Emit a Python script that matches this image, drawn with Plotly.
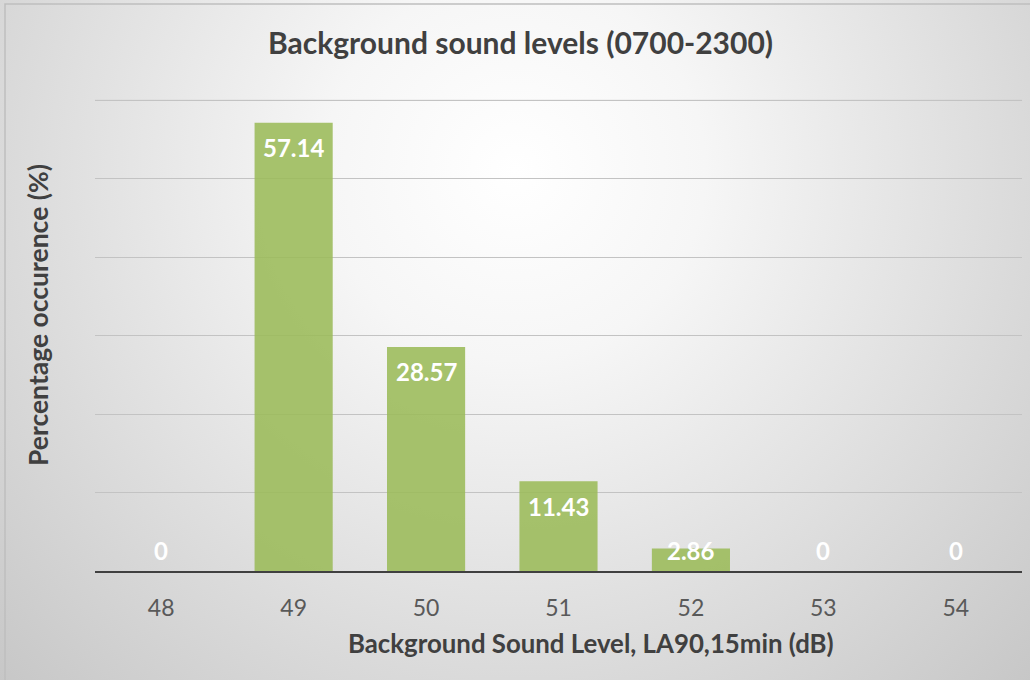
import base64
import plotly.graph_objects as go

# Histogram of background sound levels
levels = [48, 49, 50, 51, 52, 53, 54]
percent = [0, 57.14, 28.57, 11.43, 2.86, 0, 0]
value_labels = ["0", "57.14", "28.57", "11.43", "2.86", "0", "0"]

title_text = "Background sound levels (0700-2300)"
x_title = "Background Sound Level, LA90,15min (dB)"
y_title = "Percentage occurence (%)"

W, H = 1030, 680
M_L, M_R, M_T, M_B = 95, 8, 98, 109
PW, PH = W - M_L - M_R, H - M_T - M_B
Y_MAX = 60
Y_TOP = 60.3

FONT = "Lato, 'Open Sans', sans-serif"
BAR = "rgba(155,187,89,0.88)"
GRID = "#C3C3C3"

# radial grey backdrop for the whole chart area
svg = f"""<svg xmlns='http://www.w3.org/2000/svg' width='{W}' height='{H}' viewBox='0 0 {W} {H}' preserveAspectRatio='none'>
<defs><radialGradient id='g' cx='515' cy='170' r='760' gradientUnits='userSpaceOnUse'>
<stop offset='0' stop-color='#FFFFFF'/><stop offset='0.25' stop-color='#F6F6F6'/><stop offset='1' stop-color='#C4C4C4'/>
</radialGradient></defs>
<rect x='0' y='0' width='{W}' height='{H}' fill='url(#g)'/>
</svg>"""
bg_src = "data:image/svg+xml;base64," + base64.b64encode(svg.encode()).decode()

fig = go.Figure()
fig.add_trace(go.Bar(
    x=levels, y=percent, marker=dict(color=BAR, line=dict(width=0)),
    width=0.59, hoverinfo="x+y",
))

# value labels just inside the bar end, lifted above the axis for short bars
px_per_unit = PH / Y_TOP
annotations = []
for lv, v, txt in zip(levels, percent, value_labels):
    if v * px_per_unit >= 46:
        annotations.append(dict(x=lv, y=v, xref="x", yref="y", text=f"<b>{txt}</b>",
                                showarrow=False, yanchor="middle", yshift=-25,
                                font=dict(family=FONT, size=24, color="white")))
    else:
        annotations.append(dict(x=lv, y=0, xref="x", yref="y", text=f"<b>{txt}</b>",
                                showarrow=False, yanchor="middle", yshift=21,
                                font=dict(family=FONT, size=24, color="white")))

annotations.append(dict(text=f"<b>{title_text}</b>", xref="paper", yref="paper",
                        x=(520 - M_L) / PW, y=(H - M_B - 42) / PH, showarrow=False,
                        xanchor="center", yanchor="middle",
                        font=dict(family=FONT, size=30, color="#404040")))
annotations.append(dict(text=f"<b>{x_title}</b>", xref="paper", yref="paper",
                        x=(591 - M_L) / PW, y=(H - M_B - 643) / PH, showarrow=False,
                        xanchor="center", yanchor="middle",
                        font=dict(family=FONT, size=25.8, color="#404040")))
annotations.append(dict(text=f"<b>{y_title}</b>", xref="paper", yref="paper",
                        x=(38 - M_L) / PW, y=(H - M_B - 315) / PH, showarrow=False,
                        textangle=-90, xanchor="center", yanchor="middle",
                        font=dict(family=FONT, size=26.5, color="#404040")))

fig.update_layout(
    width=W, height=H,
    margin=dict(l=M_L, r=M_R, t=M_T, b=M_B),
    paper_bgcolor="rgba(0,0,0,0)", plot_bgcolor="rgba(0,0,0,0)",
    showlegend=False,
    annotations=annotations,
    images=[dict(source=bg_src, xref="paper", yref="paper",
                 x=-M_L / PW, y=1 + M_T / PH, sizex=W / PW, sizey=H / PH,
                 xanchor="left", yanchor="top", sizing="stretch", layer="below")],
    shapes=[
        # outer chart frame
        dict(type="rect", xref="paper", yref="paper",
             x0=(5 - M_L) / PW, x1=(W + 10 - M_L) / PW,
             y0=-(H + 10 - (H - M_B)) / PH, y1=(H - M_B - 4) / PH,
             line=dict(color="#BEBEBE", width=1.5), fillcolor="rgba(0,0,0,0)",
             layer="above"),
        # top gridline at the axis maximum
        dict(type="line", xref="paper", yref="y", x0=0, x1=1, y0=Y_MAX, y1=Y_MAX,
             line=dict(color=GRID, width=1), layer="below"),
    ],
    xaxis=dict(range=[levels[0] - 0.5, levels[-1] + 0.5], tickmode="array",
               tickvals=levels, ticktext=[str(v) for v in levels],
               showline=True, linecolor="#404040", linewidth=1.5, showgrid=False,
               zeroline=False, ticks="",
               tickfont=dict(family=FONT, size=23, color="#595959"),
               ticklabelstandoff=16),
    yaxis=dict(range=[0, Y_TOP], tickmode="linear", tick0=0, dtick=10,
               showticklabels=False, gridcolor=GRID, gridwidth=1,
               zeroline=False, ticks=""),
)

fig.write_html("out.html")
